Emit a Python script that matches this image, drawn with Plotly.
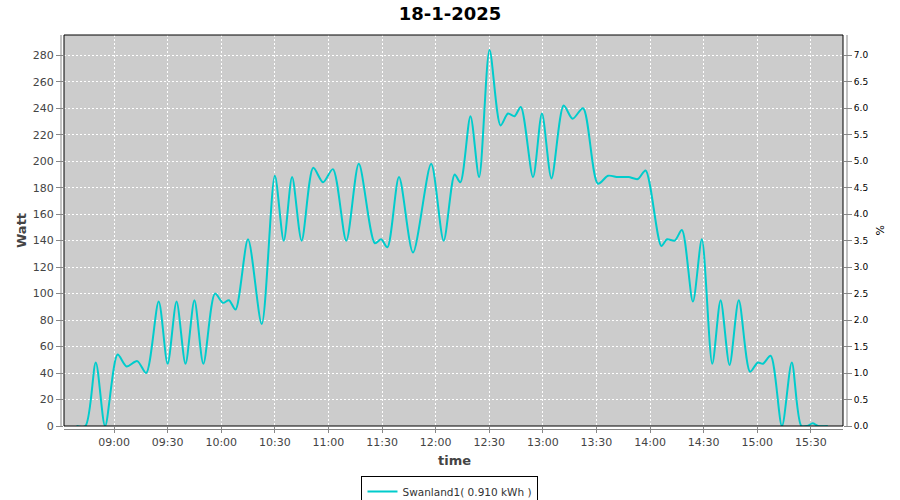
import plotly.graph_objects as go

DATE = "2025-01-18"
times = [
    "08:39:00", "08:44:00", "08:49:48", "08:55:00", "09:02:00", "09:07:00", "09:13:00",
    "09:18:00", "09:25:00", "09:30:00", "09:35:00", "09:40:00", "09:45:00", "09:50:00",
    "09:56:30", "10:01:00", "10:04:20", "10:08:00", "10:15:00", "10:22:40", "10:30:00",
    "10:35:00", "10:39:40", "10:45:00", "10:51:30", "10:57:00", "11:02:30", "11:10:00",
    "11:17:00", "11:26:00", "11:29:30", "11:33:00", "11:39:30", "11:47:20", "11:57:30",
    "12:04:30", "12:10:40", "12:13:50", "12:19:30", "12:24:20", "12:30:10", "12:36:20",
    "12:40:30", "12:44:10", "12:47:40", "12:54:30", "12:59:30", "13:04:50", "13:11:40",
    "13:16:40", "13:22:30", "13:30:50", "13:36:30", "13:42:00", "13:48:00", "13:53:10",
    "13:57:30", "14:06:20", "14:09:30", "14:13:50", "14:17:50", "14:24:00", "14:29:00",
    "14:34:50", "14:39:30", "14:44:30", "14:49:40", "14:56:00", "15:00:20", "15:03:10",
    "15:07:30", "15:13:50", "15:19:20", "15:24:40", "15:28:00", "15:31:00", "15:34:00",
    "15:39:30",
]
watts = [
    0, 0, 48, 0, 54, 45, 49,
    40, 94, 47, 94, 47, 95, 47,
    100, 93, 95, 88, 141, 77, 189,
    140, 188, 140, 195, 184, 194, 140,
    198, 138, 141, 135, 188, 131, 198,
    140, 190, 184, 234, 188, 284, 227,
    236, 234, 241, 188, 236, 187, 242,
    232, 240, 183, 189, 188, 188, 186.5,
    193, 136, 141, 140, 148, 94, 141,
    47, 95, 46, 95, 41, 48, 47,
    53, 0, 48, 0, 0, 2, 0,
    0,
]
series_name = "Swanland1( 0.910 kWh )"
title_text = "18-1-2025"
y_max = 295.3
pct_per_watt = 1 / 40.0

x = [f"{DATE} {t}" for t in times]

FONT = "DejaVu Sans"
GRAY = "#444444"
AXGRAY = "#888888"

fig = go.Figure()
fig.add_trace(go.Scatter(
    x=x, y=watts, mode="lines", name=series_name,
    line=dict(color="#00CCCC", width=2, shape="spline", smoothing=0.8),
))
# invisible trace to activate right axis
fig.add_trace(go.Scatter(
    x=[x[0]], y=[0], yaxis="y2", mode="lines", showlegend=False,
    line=dict(color="rgba(0,0,0,0)"), hoverinfo="skip",
))

fig.update_layout(
    width=900, height=500,
    margin=dict(l=64, r=57, t=35, b=74, autoexpand=False),
    paper_bgcolor="white", plot_bgcolor="#CCCCCC",
    font=dict(family=FONT, color=GRAY),
    title=dict(text="<b>" + title_text + "</b>", x=0.5, xref="container", xanchor="center",
               y=1 - 14 / 500, yref="container", yanchor="middle",
               font=dict(family=FONT, size=18, color="black")),
    xaxis=dict(
        type="date",
        range=[f"{DATE} 08:32:00", f"{DATE} 15:48:00"],
        tick0=f"{DATE} 09:00:00", dtick=30 * 60 * 1000, tickformat="%H:%M",
        showgrid=True, gridcolor="white", gridwidth=1, griddash="2px,2px",
        ticks="outside", ticklen=6, tickcolor=AXGRAY, tickwidth=1,
        tickfont=dict(family=FONT, size=11, color=GRAY),
        showline=False, zeroline=False, automargin=False,
    ),
    yaxis=dict(
        range=[0, y_max], dtick=20, tick0=0,
        showgrid=True, gridcolor="white", gridwidth=1, griddash="2px,2px",
        ticks="outside", ticklen=7, tickcolor=AXGRAY, tickwidth=1,
        tickfont=dict(family=FONT, size=11, color=GRAY),
        showline=False, zeroline=False, automargin=False,
    ),
    yaxis2=dict(
        overlaying="y", side="right",
        range=[0, y_max * pct_per_watt], dtick=0.5, tick0=0, tickformat=".1f",
        showgrid=False, zeroline=False, showline=False,
        ticks="outside", ticklen=8, tickcolor=AXGRAY, tickwidth=1,
        tickfont=dict(family=FONT, size=9, color="black"), automargin=False,
    ),
    showlegend=True,
    legend=dict(
        orientation="h", x=0.4955, xanchor="center", y=-0.128, yanchor="top",
        bordercolor="black", borderwidth=1, bgcolor="white",
        font=dict(family=FONT, size=10.5, color="#333333"),
        itemwidth=30,
    ),
)

# axis titles
fig.add_annotation(text="<b>Watt</b>", xref="paper", yref="paper",
                   x=(21 - 64) / 779, y=0.4987, xanchor="center", yanchor="middle",
                   textangle=-90, showarrow=False,
                   font=dict(family=FONT, size=13, color=GRAY))
fig.add_annotation(text="%", xref="paper", yref="paper",
                   x=(880 - 64) / 779, y=0.5, xanchor="center", yanchor="middle",
                   textangle=-90, showarrow=False,
                   font=dict(family=FONT, size=11, color="black"))
fig.add_annotation(text="<b>time</b>", xref="paper", yref="paper",
                   x=(454 - 64) / 779, y=(426 - 460) / 391, xanchor="center", yanchor="middle",
                   showarrow=False,
                   font=dict(family=FONT, size=13, color=GRAY))

# plot border and offset axis lines
fig.add_shape(type="rect", xref="paper", yref="paper", x0=0, y0=0, x1=1, y1=1,
              line=dict(color="black", width=1), layer="above")
fig.add_shape(type="line", xref="paper", yref="paper", x0=-3 / 779, x1=-3 / 779, y0=0, y1=1,
              line=dict(color=AXGRAY, width=1))
fig.add_shape(type="line", xref="paper", yref="paper", x0=1 + 4 / 779, x1=1 + 4 / 779, y0=0, y1=1,
              line=dict(color=AXGRAY, width=1))
fig.add_shape(type="line", xref="paper", yref="paper", x0=0, x1=1, y0=-3.5 / 391, y1=-3.5 / 391,
              line=dict(color=AXGRAY, width=1))

fig.write_html("out.html", config={"displayModeBar": False},
               post_script="document.body.style.margin='0';")
